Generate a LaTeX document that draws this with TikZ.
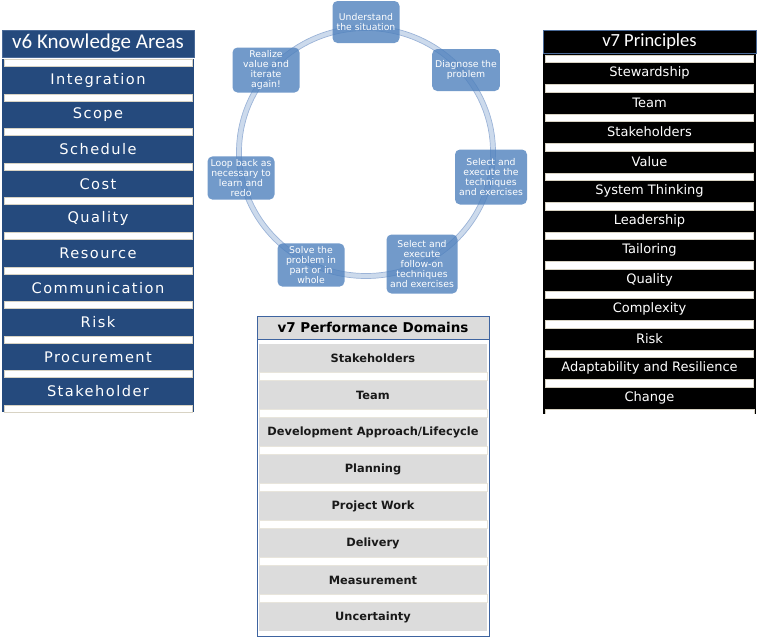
\documentclass[tikz,border=0pt]{standalone}
\usepackage{fontspec}
\setmainfont{DejaVu Sans}
\newfontfamily\headfont{Carlito}
\newfontfamily\widefont[LetterSpace=10]{DejaVu Sans}
\usetikzlibrary{positioning}

\definecolor{kablue}{HTML}{254A7D}
\definecolor{kaedge}{HTML}{4A6A98}
\definecolor{stripline}{HTML}{D8D3C4}
\definecolor{cyclefill}{HTML}{4F81BD}
\definecolor{ringlight}{HTML}{CCDAEC}
\definecolor{ringedge}{HTML}{9CB4D8}
\definecolor{pdgray}{HTML}{DCDCDC}
\definecolor{pdedge}{HTML}{3E64A0}

\tikzset{
  katitle/.style={rectangle, fill=kablue, draw=kaedge, line width=1pt, text=white,
    minimum width=192pt, minimum height=27pt, inner sep=0pt,
    font=\headfont\fontsize{21}{21}\selectfont},
  kastrip/.style={rectangle, fill=white, draw=stripline, line width=0.8pt,
    minimum width=188pt, minimum height=7pt, inner sep=0pt},
  kaitem/.style={text=white, inner sep=0pt, font=\widefont\fontsize{14.6}{14.6}\selectfont},
  prtitle/.style={rectangle, fill=black, draw=kaedge, line width=1pt, text=white,
    minimum width=213pt, minimum height=23pt, inner sep=0pt,
    font=\headfont\fontsize{18.5}{18.5}\selectfont},
  prstrip/.style={rectangle, fill=white, draw=stripline, line width=0.8pt,
    minimum width=208pt, minimum height=7.5pt, inner sep=0pt},
  pritem/.style={text=white, inner sep=0pt, font=\fontsize{13}{13}\selectfont},
  pdtitle/.style={rectangle, fill=pdgray, draw=pdedge, line width=1pt, text=black,
    minimum width=232pt, minimum height=23pt, inner sep=0pt,
    font=\bfseries\fontsize{13.5}{13.5}\selectfont},
  pdband/.style={rectangle, fill=pdgray, minimum width=228pt, minimum height=28pt,
    inner sep=0pt, text=black!90, font=\bfseries\fontsize{11.4}{11.4}\selectfont},
  pdstrip/.style={rectangle, fill=white, draw=stripline!60, line width=0.6pt,
    minimum width=228pt, minimum height=8pt, inner sep=0pt},
  cyclebox/.style={rectangle, rounded corners=5pt, fill=cyclefill, fill opacity=0.8,
    text opacity=1, text=white, align=center, minimum width=67pt, minimum height=42pt,
    inner sep=3pt, font=\fontsize{9.3}{10}\selectfont}
}

\begin{document}
\begin{tikzpicture}[x=1pt,y=-1pt]
  \useasboundingbox (0,0) rectangle (758,638);

  % v6 knowledge areas
  \node[katitle] (katitle) at (98,43.5) {v6 Knowledge Areas};
  \fill[kablue] (2,59) rectangle (194,412);
  \foreach \i in {0,...,10}
    \node[kastrip] (kastrip\i) at (98,62.8+34.6*\i) {};
  \foreach \name [count=\i from 0] in {Integration,Scope,Schedule,Cost,Quality,
      Resource,Communication,Risk,Procurement,Stakeholder}
    \node[kaitem] (ka\i) at (98,80+34.6*\i) {\name};

  % v7 principles
  \node[prtitle] (prtitle) at (649.5,41.5) {v7 Principles};
  \fill[black] (543,54) rectangle (756,414);
  \foreach \i in {0,...,11}
    \node[prstrip] (prstrip\i) at (649.5,58.8+29.5*\i) {};
  \fill[white] (545,409.5) rectangle (754,414);
  \draw[stripline, line width=0.8pt] (545,414) |- (754,409.5) -- (754,414);
  \foreach \name [count=\i from 0] in {Stewardship,Team,Stakeholders,Value,
      System Thinking,Leadership,Tailoring,Quality,Complexity,Risk,
      Adaptability and Resilience,Change}
    \node[pritem] (pr\i) at (649.5,73+29.5*\i) {\name};

  % v7 performance domains
  \node[pdtitle] (pdtitle) at (373,327.5) {v7 Performance Domains};
  \draw[pdedge, line width=1pt, fill=white] (257,339) rectangle (489,636);
  \foreach \i in {0,...,6}
    \node[pdstrip] (pdstrip\i) at (373,376.5+37*\i) {};
  \foreach \name [count=\i from 0] in {Stakeholders,Team,
      Development Approach/Lifecycle,Planning,Project Work,Delivery,
      Measurement,Uncertainty}
    \node[pdband] (pd\i) at (373,358+37*\i) {\name};

  % cycle
  \draw[ringlight, line width=5pt] (366,152) ellipse (127pt and 124pt);
  \draw[ringedge, line width=0.7pt] (366,152) ellipse (129.5pt and 126.5pt);
  \draw[ringedge, line width=0.7pt] (366,152) ellipse (124.5pt and 121.5pt);

  \node[cyclebox] (understand) at (366,22) {Understand\\the situation};
  \node[cyclebox] (diagnose) at (466,70) {Diagnose the\\problem};
  \node[cyclebox, minimum width=72pt, minimum height=55pt] (select) at (491,177)
    {Select and\\execute the\\techniques\\and exercises};
  \node[cyclebox, minimum width=71pt, minimum height=59pt] (followon) at (422,264)
    {Select and\\execute\\follow-on\\techniques\\and exercises};
  \node[cyclebox, minimum height=43pt] (solve) at (311,265)
    {Solve the\\problem in\\part or in\\whole};
  \node[cyclebox] (loop) at (241,178)
    {Loop back as\\necessary to\\learn and\\redo};
  \node[cyclebox] (realize) at (266,70)
    {Realize\\value and\\iterate\\again!};
\end{tikzpicture}
\end{document}
